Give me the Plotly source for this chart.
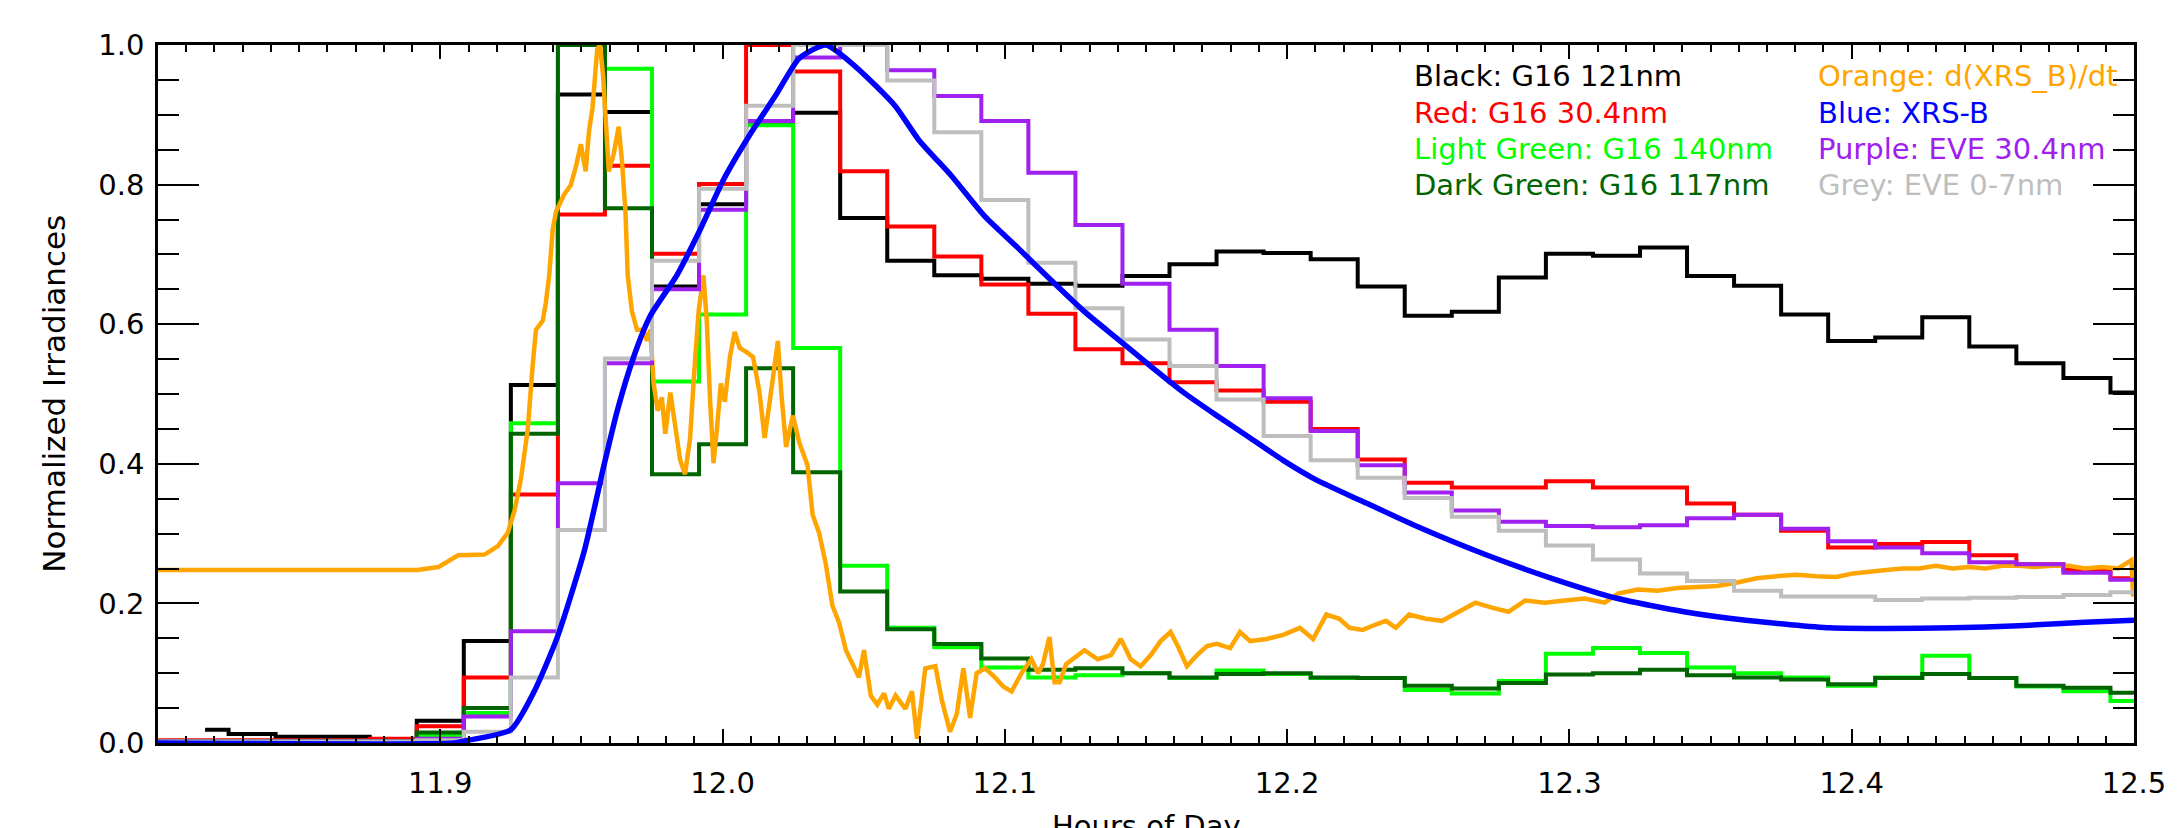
import plotly.graph_objects as go

# ---------------- data ----------------
# one-minute cadence stamps (11:48 .. 12:30) in decimal hours
minute_hours = [11.8 + m / 60.0 for m in range(43)]

g16_121 = [None, 0.019, 0.013, 0.009, 0.009, 0.005, 0.032, 0.146, 0.513, 0.929,
           0.904, 0.654, 0.772, 0.890, 0.903, 0.752, 0.691, 0.670, 0.665, 0.658,
           0.655, 0.669, 0.686, 0.704, 0.702, 0.693, 0.654, 0.612, 0.618, 0.667,
           0.701, 0.698, 0.710, 0.669, 0.655, 0.614, 0.576, 0.581, 0.610, 0.568,
           0.544, 0.523, 0.502]
g16_304 = [0.004, 0.004, 0.004, 0.004, 0.004, 0.006, 0.024, 0.094, 0.356, 0.757,
           0.827, 0.701, 0.801, 1.000, 0.962, 0.819, 0.740, 0.697, 0.657, 0.615,
           0.564, 0.544, 0.517, 0.505, 0.489, 0.450, 0.406, 0.373, 0.366, 0.366,
           0.375, 0.366, 0.366, 0.343, 0.327, 0.304, 0.280, 0.285, 0.288, 0.269,
           0.256, 0.248, 0.236]
g16_140 = [0.003, 0.003, 0.003, 0.003, 0.003, 0.003, 0.010, 0.043, 0.458, 1.000,
           0.966, 0.518, 0.614, 0.885, 0.566, 0.254, 0.165, 0.137, 0.108, 0.094,
           0.097, 0.100, 0.093, 0.104, 0.099, 0.093, 0.093, 0.076, 0.071, 0.089,
           0.128, 0.136, 0.129, 0.108, 0.100, 0.094, 0.082, 0.094, 0.125, 0.093,
           0.081, 0.074, 0.060]
g16_117 = [0.003, 0.003, 0.003, 0.003, 0.003, 0.003, 0.015, 0.050, 0.443, 1.000,
           0.766, 0.385, 0.428, 0.537, 0.388, 0.217, 0.163, 0.142, 0.121, 0.105,
           0.107, 0.100, 0.094, 0.099, 0.100, 0.094, 0.093, 0.082, 0.078, 0.086,
           0.098, 0.100, 0.105, 0.097, 0.094, 0.091, 0.084, 0.093, 0.099, 0.093,
           0.082, 0.079, 0.072]
eve_304 = [0.002, 0.002, 0.002, 0.002, 0.002, 0.002, 0.006, 0.038, 0.160, 0.372,
           0.544, 0.650, 0.764, 0.891, 0.982, 1.000, 0.964, 0.927, 0.891, 0.817,
           0.742, 0.658, 0.592, 0.540, 0.494, 0.447, 0.398, 0.359, 0.333, 0.317,
           0.311, 0.309, 0.312, 0.322, 0.327, 0.307, 0.289, 0.280, 0.272, 0.259,
           0.256, 0.244, 0.234]
eve_0_7 = [0.002, 0.002, 0.002, 0.002, 0.002, 0.002, 0.004, 0.016, 0.094, 0.305,
           0.551, 0.691, 0.794, 0.913, 1.000, 1.000, 0.949, 0.875, 0.778, 0.688,
           0.623, 0.578, 0.540, 0.492, 0.440, 0.405, 0.380, 0.351, 0.324, 0.304,
           0.283, 0.263, 0.243, 0.232, 0.218, 0.210, 0.210, 0.205, 0.207, 0.208,
           0.209, 0.212, 0.216]

xrsb_hours = [11.800, 11.905, 11.9087, 11.925, 11.9333, 11.9415, 11.951, 11.958,
              11.9627, 11.9685, 11.9744, 11.9838, 11.992, 12.0002, 12.0096, 12.019,
              12.0272, 12.0366, 12.0448, 12.0542, 12.0613, 12.0695, 12.0812, 12.093,
              12.1047, 12.1164, 12.1282, 12.1399, 12.1516, 12.1634, 12.1751, 12.1869,
              12.1986, 12.2103, 12.2268, 12.2467, 12.2702, 12.2937, 12.3171, 12.3406,
              12.3641, 12.3923, 12.4122, 12.4357, 12.4592, 12.4826, 12.500]
xrsb_norm = [0.000, 0.000, 0.003, 0.019, 0.074, 0.152, 0.275, 0.398,
             0.476, 0.553, 0.612, 0.670, 0.735, 0.806, 0.871, 0.929,
             0.981, 1.000, 0.977, 0.942, 0.912, 0.864, 0.812, 0.754,
             0.709, 0.663, 0.618, 0.579, 0.540, 0.502, 0.469, 0.437,
             0.405, 0.377, 0.346, 0.309, 0.270, 0.236, 0.207, 0.188,
             0.175, 0.165, 0.164, 0.165, 0.168, 0.173, 0.176]

dxrsb_hours = [11.800, 11.892, 11.8993, 11.9063, 11.9157, 11.9204, 11.9239, 11.9263,
               11.9286, 11.931, 11.9327, 11.9339, 11.9363, 11.9374, 11.9386, 11.9398,
               11.941, 11.9439, 11.9462, 11.948, 11.9498, 11.9515, 11.9527, 11.9539,
               11.9556, 11.9566, 11.9577, 11.9589, 11.9597, 11.9615, 11.9632, 11.9644,
               11.9656, 11.9664, 11.9679, 11.9697, 11.972, 11.9732, 11.9744, 11.9756,
               11.977, 11.9785, 11.9797, 11.9815, 11.9832, 11.985, 11.9867, 11.9885,
               11.9899, 11.9915, 11.9932, 11.9944, 11.9956, 11.9968, 11.998, 11.9994,
               12.0008, 12.0026, 12.0043, 12.0061, 12.0085, 12.0108, 12.0131, 12.0149,
               12.0167, 12.0184, 12.0196, 12.0208, 12.0225, 12.0249, 12.0272, 12.0301,
               12.0319, 12.0342, 12.0366, 12.0389, 12.0413, 12.0437, 12.046, 12.0483,
               12.0501, 12.0525, 12.0548, 12.0572, 12.0589, 12.0613, 12.0648, 12.0671,
               12.0689, 12.0718, 12.0754, 12.0777, 12.0806, 12.083, 12.0853, 12.0877,
               12.09, 12.093, 12.0965, 12.0994, 12.1024, 12.1059, 12.1094, 12.1118,
               12.1135, 12.1158, 12.1176, 12.1194, 12.1217, 12.1252, 12.1282, 12.1329,
               12.1376, 12.1411, 12.1446, 12.1481, 12.1517, 12.1552, 12.1587, 12.1616,
               12.1645, 12.1681, 12.1716, 12.1751, 12.1798, 12.1833, 12.1869, 12.1927,
               12.1986, 12.2045, 12.2092, 12.2139, 12.2185, 12.2221, 12.2268, 12.2303,
               12.235, 12.2385, 12.2432, 12.2491, 12.2549, 12.2608, 12.2667, 12.2725,
               12.2784, 12.2843, 12.2913, 12.2984, 12.3054, 12.3125, 12.3172, 12.3242,
               12.3312, 12.3383, 12.3453, 12.3524, 12.3594, 12.3664, 12.3735, 12.3805,
               12.3876, 12.3946, 12.4005, 12.4063, 12.4122, 12.4181, 12.4239, 12.4298,
               12.4357, 12.4415, 12.4474, 12.4533, 12.4592, 12.465, 12.4709, 12.4768,
               12.4826, 12.4885, 12.4944, 12.4991, 12.4997]
dxrsb_norm = [0.248, 0.248, 0.252, 0.269, 0.270, 0.282, 0.301, 0.333,
              0.379, 0.450, 0.540, 0.592, 0.605, 0.631, 0.670, 0.735,
              0.761, 0.786, 0.799, 0.825, 0.858, 0.819, 0.877, 0.909,
              0.994, 1.000, 0.955, 0.877, 0.819, 0.845, 0.883, 0.832,
              0.761, 0.670, 0.618, 0.592, 0.592, 0.576, 0.592, 0.515,
              0.476, 0.495, 0.443, 0.502, 0.456, 0.405, 0.385, 0.437,
              0.527, 0.618, 0.670, 0.605, 0.489, 0.401, 0.450, 0.515,
              0.489, 0.553, 0.589, 0.566, 0.560, 0.553, 0.502, 0.437,
              0.489, 0.540, 0.576, 0.502, 0.424, 0.469, 0.430, 0.398,
              0.327, 0.301, 0.256, 0.197, 0.172, 0.133, 0.113, 0.094,
              0.133, 0.068, 0.055, 0.071, 0.049, 0.068, 0.049, 0.074,
              0.006, 0.107, 0.110, 0.061, 0.016, 0.042, 0.107, 0.036,
              0.100, 0.107, 0.094, 0.081, 0.074, 0.100, 0.120, 0.100,
              0.113, 0.152, 0.087, 0.087, 0.113, 0.123, 0.133, 0.120,
              0.126, 0.149, 0.120, 0.110, 0.126, 0.146, 0.159, 0.136,
              0.110, 0.126, 0.139, 0.142, 0.136, 0.159, 0.146, 0.149,
              0.155, 0.165, 0.149, 0.184, 0.178, 0.165, 0.162, 0.168,
              0.175, 0.165, 0.184, 0.178, 0.175, 0.188, 0.201, 0.194,
              0.188, 0.204, 0.201, 0.204, 0.207, 0.201, 0.214, 0.220,
              0.218, 0.222, 0.223, 0.225, 0.230, 0.236, 0.239, 0.241,
              0.239, 0.238, 0.243, 0.246, 0.248, 0.250, 0.250, 0.254,
              0.250, 0.252, 0.250, 0.254, 0.254, 0.252, 0.254, 0.254,
              0.250, 0.252, 0.250, 0.262, 0.210]

x_tick_vals = [11.9, 12.0, 12.1, 12.2, 12.3, 12.4, 12.5]
x_tick_text = ["11.9", "12.0", "12.1", "12.2", "12.3", "12.4", "12.5"]
y_tick_vals = [0.0, 0.2, 0.4, 0.6, 0.8, 1.0]
y_tick_text = ["0.0", "0.2", "0.4", "0.6", "0.8", "1.0"]

legend_left = [("Black: G16 121nm", "#000000"),
               ("Red: G16 30.4nm", "#ff0000"),
               ("Light Green: G16 140nm", "#00ff00"),
               ("Dark Green: G16 117nm", "#006400")]
legend_right = [("Orange: d(XRS_B)/dt", "#ffa500"),
                ("Blue: XRS-B", "#0000ff"),
                ("Purple: EVE 30.4nm", "#a020f0"),
                ("Grey: EVE 0-7nm", "#bebebe")]

# ---------------- figure ----------------
FONT = "DejaVu Sans"
fig = go.Figure()

step_series = [(g16_121, "#000000"), (g16_304, "#ff0000"), (g16_140, "#00ff00"),
               (g16_117, "#006400")]
for vals, col in step_series:
    fig.add_trace(go.Scatter(x=minute_hours, y=vals, mode="lines",
                             line=dict(color=col, width=4, shape="hvh"),
                             showlegend=False, hoverinfo="skip"))

fig.add_trace(go.Scatter(x=dxrsb_hours, y=dxrsb_norm, mode="lines",
                         line=dict(color="#ffa500", width=4.5),
                         showlegend=False, hoverinfo="skip"))

for vals, col in [(eve_304, "#a020f0"), (eve_0_7, "#bebebe")]:
    fig.add_trace(go.Scatter(x=minute_hours, y=vals, mode="lines",
                             line=dict(color=col, width=4, shape="hvh"),
                             showlegend=False, hoverinfo="skip"))

fig.add_trace(go.Scatter(x=xrsb_hours, y=xrsb_norm, mode="lines",
                         line=dict(color="#0000ff", width=5.5, shape="spline",
                                   smoothing=0.6),
                         showlegend=False, hoverinfo="skip"))

ann = []
rows_y = [0.9556, 0.9026, 0.851, 0.7994]
for (txt, col), yy in zip(legend_left, rows_y):
    ann.append(dict(x=0.6348, y=yy, xref="paper", yref="paper", text=txt,
                    showarrow=False, xanchor="left", yanchor="middle",
                    font=dict(family=FONT, size=29, color=col)))
for (txt, col), yy in zip(legend_right, rows_y):
    ann.append(dict(x=0.839, y=yy, xref="paper", yref="paper", text=txt,
                    showarrow=False, xanchor="left", yanchor="middle",
                    font=dict(family=FONT, size=29, color=col)))
ann.append(dict(x=-0.0528, y=0.5, xref="paper", yref="paper",
                text="Normalized Irradiances", textangle=-90, showarrow=False,
                xanchor="center", yanchor="middle",
                font=dict(family=FONT, size=31, color="#000000")))
ann.append(dict(x=0.5, y=-0.0917, xref="paper", yref="paper",
                text="Hours of Day", showarrow=False,
                xanchor="center", yanchor="top",
                font=dict(family=FONT, size=29, color="#000000")))

fig.update_layout(
    width=2178, height=828,
    margin=dict(l=158, r=32, t=45, b=85, pad=0),
    paper_bgcolor="white", plot_bgcolor="white",
    annotations=ann,
    font=dict(family=FONT, size=29, color="#000000"),
)
fig.update_xaxes(
    range=[11.8, 12.50001], showgrid=False, zeroline=False,
    showline=True, linecolor="black", linewidth=2.5, mirror="allticks",
    ticks="inside", ticklen=14, tickwidth=2, tickcolor="black",
    tickmode="array", tickvals=x_tick_vals, ticktext=x_tick_text,
    tickfont=dict(family=FONT, size=29, color="black"),
    ticklabelstandoff=12, ticklabeloverflow="allow",
    minor=dict(ticks="inside", ticklen=7, tickwidth=2, tickcolor="black",
               tickmode="linear", tick0=11.8, dtick=0.01, showgrid=False),
)
fig.update_yaxes(
    range=[0, 1.0], showgrid=False, zeroline=False,
    showline=True, linecolor="black", linewidth=2.5, mirror="allticks",
    ticks="inside", ticklen=41, tickwidth=2, tickcolor="black",
    tickmode="array", tickvals=y_tick_vals, ticktext=y_tick_text,
    tickfont=dict(family=FONT, size=29, color="black"),
    ticklabelstandoff=5,
    minor=dict(ticks="inside", ticklen=21, tickwidth=2, tickcolor="black",
               tickmode="linear", tick0=0, dtick=0.05, showgrid=False),
)

fig.write_html("out.html")
